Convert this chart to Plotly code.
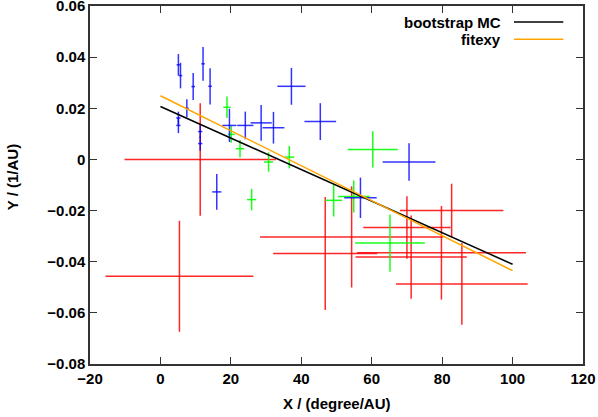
import plotly.graph_objects as go

# ---- data ----
red_x    = [5.4, 11.3, 46.8, 54.3, 70.0, 71.2, 79.8, 82.7, 85.6]
red_y    = [-0.0457, 0.0, -0.0368, -0.0303, -0.0266, -0.0382, -0.0365, -0.0200, -0.0487]
red_xerr = [21.0, 21.5, 14.8, 26.0, 12.4, 15.8, 24.0, 14.7, 18.7]
red_yerr = [0.0217, 0.0220, 0.0221, 0.0198, 0.0122, 0.0163, 0.0183, 0.0105, 0.0160]

green_x    = [18.9, 20.1, 22.6, 25.9, 30.7, 36.6, 49.2, 54.9, 60.3, 65.2]
green_y    = [0.0204, 0.0098, 0.0042, -0.0157, -0.0010, 0.0009, -0.0160, -0.0145, 0.0039, -0.0327]
green_xerr = [1.05, 1.0, 1.2, 1.3, 1.3, 1.4, 2.4, 4.5, 7.1, 9.9]
green_yerr = [0.0042, 0.0033, 0.0034, 0.0042, 0.0038, 0.0044, 0.0063, 0.0063, 0.0071, 0.0112]

blue_x    = [5.1, 5.7, 7.5, 9.3, 12.1, 14.1, 5.1, 5.1, 11.3, 11.3, 16.0,
             19.6, 24.1, 28.6, 32.1, 37.2, 45.4, 70.6, 56.8]
blue_y    = [0.0370, 0.0328, 0.0200, 0.0285, 0.0374, 0.0286, 0.0162, 0.0133, 0.0109, 0.0062, -0.0127,
             0.0133, 0.0133, 0.0143, 0.0124, 0.0286, 0.0148, -0.0010, -0.0150]
blue_xerr = [0.5, 0.5, 0.5, 0.5, 0.5, 0.5, 0.6, 0.6, 0.6, 0.6, 1.3,
             2.0, 2.3, 3.0, 3.1, 4.0, 4.5, 7.5, 4.6]
blue_yerr = [0.0042, 0.0050, 0.0035, 0.0053, 0.0066, 0.0071, 0.0025, 0.0030, 0.0025, 0.0028, 0.0070,
             0.0065, 0.0054, 0.0070, 0.0062, 0.0072, 0.0072, 0.0073, 0.0079]

# fitted lines: intercept, slope, x-range
fit_xrange = [0, 100]
boot_a, boot_b = 0.0207, -0.000617
fitexy_a, fitexy_b = 0.0249, -0.000684

legend_labels = ["bootstrap MC", "fitexy"]

x_ticks = [-20, 0, 20, 40, 60, 80, 100, 120]
y_ticks = [-0.08, -0.06, -0.04, -0.02, 0, 0.02, 0.04, 0.06]
y_ticktext = ["\u22120.08", "\u22120.06", "\u22120.04", "\u22120.02", "0", "0.02", "0.04", "0.06"]
x_ticktext = ["\u221220", "0", "20", "40", "60", "80", "100", "120"]

FONT = "Liberation Sans"

fig = go.Figure()


def add_err(xs, ys, xe, ye, color):
    fig.add_trace(go.Scatter(
        x=xs, y=ys, mode="markers",
        marker=dict(size=0.1, color=color, opacity=0),
        error_x=dict(type="data", array=xe, visible=True, color=color, thickness=1.5, width=0),
        error_y=dict(type="data", array=ye, visible=True, color=color, thickness=1.5, width=0),
        showlegend=False, hoverinfo="skip", cliponaxis=True))


add_err(red_x, red_y, red_xerr, red_yerr, "rgba(255,0,0,0.85)")
add_err(green_x, green_y, green_xerr, green_yerr, "rgba(0,255,0,0.9)")
add_err(blue_x, blue_y, blue_xerr, blue_yerr, "rgba(0,0,255,0.8)")

fig.add_trace(go.Scatter(
    x=fit_xrange, y=[boot_a + boot_b * v for v in fit_xrange], mode="lines",
    line=dict(color="black", width=1.5), showlegend=False, hoverinfo="skip"))
fig.add_trace(go.Scatter(
    x=fit_xrange, y=[fitexy_a + fitexy_b * v for v in fit_xrange], mode="lines",
    line=dict(color="#ffa500", width=1.5), showlegend=False, hoverinfo="skip"))

# custom gnuplot-style legend (text right, sample line after it)
leg_colors = ["black", "#ffa500"]
leg_y = [0.955, 0.907]
for lab, col, yy in zip(legend_labels, leg_colors, leg_y):
    fig.add_annotation(x=0.838, y=yy, xref="paper", yref="paper", text="<b>" + lab + "</b>",
                       showarrow=False, xanchor="right", yanchor="middle",
                       font=dict(family=FONT, size=15, color="black"))
    fig.add_shape(type="line", xref="paper", yref="paper", x0=0.860, x1=0.960,
                  y0=yy, y1=yy, line=dict(color=col, width=1.5))

axis_common = dict(showline=True, linecolor="#333333", linewidth=1.5, mirror="ticks",
                   ticks="inside", ticklen=7, tickwidth=1.2, tickcolor="#333333",
                   showgrid=False, zeroline=False, automargin=False,
                   ticklabeloverflow="allow",
                   tickfont=dict(family=FONT, size=15, color="black", weight="bold"))

fig.update_layout(
    width=598, height=417,
    margin=dict(l=90, r=15, t=6, b=53),
    paper_bgcolor="white", plot_bgcolor="white",
    xaxis=dict(range=[-20.001, 120.001], tickvals=x_ticks, ticktext=x_ticktext, **axis_common),
    yaxis=dict(range=[-0.08001, 0.06001], tickvals=y_ticks, ticktext=y_ticktext, **axis_common),
    font=dict(family=FONT, size=15, color="black"),
)

fig.add_annotation(x=0.5, y=-0.109, xref="paper", yref="paper", text="<b>X / (degree/AU)</b>",
                   showarrow=False, xanchor="center", yanchor="middle",
                   font=dict(family=FONT, size=15, color="black"))
fig.add_annotation(x=-0.158, y=0.522, xref="paper", yref="paper", text="<b>Y / (1/AU)</b>",
                   showarrow=False, xanchor="center", yanchor="middle", textangle=-90,
                   font=dict(family=FONT, size=15, color="black"))

fig.write_html("out.html", config={"displayModeBar": False},
               post_script="document.body.style.margin='0';document.body.style.overflow='hidden';")
